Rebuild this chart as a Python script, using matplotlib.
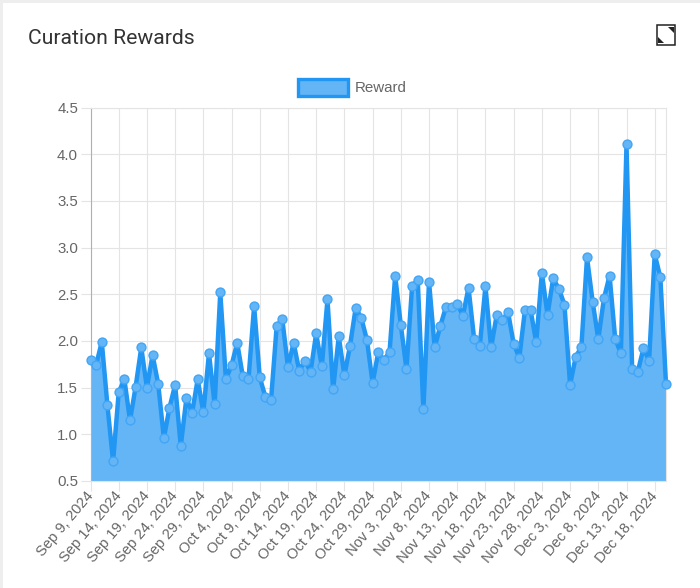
import matplotlib
matplotlib.use('Agg')
import matplotlib.pyplot as plt
from matplotlib.patches import Rectangle, Polygon

# daily reward values, Sep 9 - Dec 20 2024
rewards = [1.80, 1.745, 1.99, 1.31, 0.71, 1.45, 1.59, 1.15, 1.51, 1.93,
           1.50, 1.85, 1.54, 0.96, 1.285, 1.53, 0.875, 1.39, 1.23, 1.59,
           1.235, 1.87, 1.32, 2.52, 1.59, 1.74, 1.98, 1.62, 1.59, 2.375,
           1.61, 1.40, 1.37, 2.16, 2.23, 1.72, 1.98, 1.68, 1.79, 1.67,
           2.08, 1.73, 2.445, 1.48, 2.05, 1.63, 1.95, 2.355, 2.245, 2.01,
           1.55, 1.88, 1.795, 1.88, 2.70, 2.17, 1.70, 2.59, 2.65, 1.27,
           2.635, 1.93, 2.16, 2.365, 2.365, 2.40, 2.27, 2.57, 2.02, 1.95,
           2.585, 1.93, 2.28, 2.22, 2.31, 1.97, 1.82, 2.33, 2.33, 1.985,
           2.73, 2.28, 2.67, 2.56, 2.39, 1.53, 1.83, 1.935, 2.895, 2.42,
           2.02, 2.455, 2.70, 2.02, 1.87, 4.105, 1.695, 1.67, 1.92, 1.79,
           2.93, 2.68, 1.54]
date_labels = ['Sep 9, 2024', 'Sep 14, 2024', 'Sep 19, 2024', 'Sep 24, 2024',
               'Sep 29, 2024', 'Oct 4, 2024', 'Oct 9, 2024', 'Oct 14, 2024',
               'Oct 19, 2024', 'Oct 24, 2024', 'Oct 29, 2024', 'Nov 3, 2024',
               'Nov 8, 2024', 'Nov 13, 2024', 'Nov 18, 2024', 'Nov 23, 2024',
               'Nov 28, 2024', 'Dec 3, 2024', 'Dec 8, 2024', 'Dec 13, 2024',
               'Dec 18, 2024']
y_ticks = [0.5, 1.0, 1.5, 2.0, 2.5, 3.0, 3.5, 4.0, 4.5]

W, H = 700, 588
LINE = '#2196f3'
FILL = '#64b5f6'
MARKER_EDGE = '#42a5f5'
GRID = '#e4e4e4'
TEXT = '#666666'


def fx(px):
    return px / W


def fy(px):
    return 1 - px / H


fig = plt.figure(figsize=(W / 100, H / 100), dpi=100, facecolor='#eeeeee')
# white card
fig.add_artist(Rectangle((fx(3), 0), 1, fy(3), transform=fig.transFigure,
                         facecolor='white', edgecolor='none', zorder=-1))

ax = fig.add_axes([fx(90.5), fy(481), (666 - 90.5) / W, (481 - 107.5) / H], zorder=5)
ax.set_facecolor('none')

x = list(range(len(rewards)))
ax.fill_between(x, rewards, 0.5, color=FILL, linewidth=0, zorder=2)
ax.plot(x, rewards, color=LINE, lw=3.2, zorder=3, solid_joinstyle='round',
        marker='o', ms=6.4, mfc=FILL, mec=MARKER_EDGE, mew=1.0, clip_on=False)

ax.set_xlim(0, len(rewards) - 1)
ax.set_ylim(0.5, 4.5)
ax.set_yticks(y_ticks)
ax.set_yticklabels(['%.1f' % v for v in y_ticks], fontsize=10.8, color=TEXT,
                   family='Liberation Sans')
ax.set_xticks(x[::5])
ax.set_xticklabels(date_labels, rotation=50, ha='right', va='center',
                   rotation_mode='anchor', fontsize=10.6, color=TEXT,
                   family='Liberation Sans')
ax.tick_params(axis='y', length=7, width=0.8, color=GRID, pad=2)
ax.tick_params(axis='x', length=7, width=0.8, color=GRID, pad=2)
ax.grid(True, color=GRID, lw=0.8, zorder=1)
ax.set_axisbelow(True)
for side in ['top', 'right', 'bottom']:
    ax.spines[side].set_color(GRID)
    ax.spines[side].set_linewidth(0.8)
ax.spines['left'].set_color('#b0b0b0')

fig.text(fx(28), fy(38), 'Curation Rewards', fontsize=15.2, color='#333333',
         family='Roboto', va='center', ha='left')

# legend
fig.add_artist(Rectangle((fx(297.5), fy(96)), 50.5 / W, 17 / H, transform=fig.transFigure,
                         facecolor=FILL, edgecolor=LINE, lw=2.4))
fig.text(fx(355), fy(88), 'Reward', fontsize=10.9, color=TEXT,
         family='Liberation Sans', va='center', ha='left')

# expand icon
fig.add_artist(Rectangle((fx(656.5), fy(44.5)), 18.5 / W, 19.5 / H, transform=fig.transFigure,
                         facecolor='white', edgecolor='#222222', lw=1.1))
fig.add_artist(Polygon([(fx(668), fy(27)), (fx(674), fy(27)), (fx(674), fy(33))],
                       transform=fig.transFigure, facecolor='#222222', edgecolor='none'))
fig.add_artist(Polygon([(fx(658), fy(37)), (fx(664), fy(43)), (fx(658), fy(43))],
                       transform=fig.transFigure, facecolor='#222222', edgecolor='none'))

fig.savefig('out.png', dpi=100, facecolor=fig.get_facecolor())
